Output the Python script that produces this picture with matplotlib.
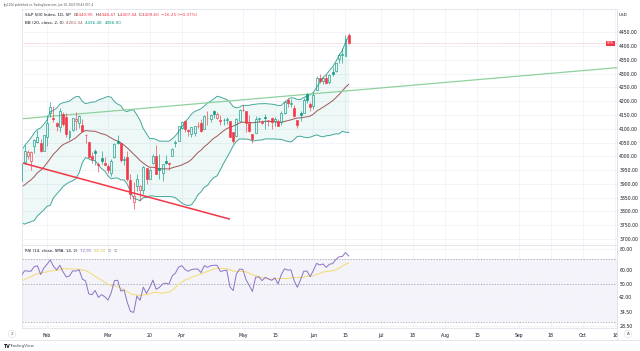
import numpy as np
import pandas as pd
import matplotlib
matplotlib.use("Agg")
import matplotlib.pyplot as plt
from matplotlib.ticker import NullLocator, FixedLocator

plt.rcParams['font.family'] = ['DejaVu Sans']

# ---------------- data ----------------
holidays = ['2022-11-24', '2022-12-26', '2023-01-02', '2023-01-16', '2023-02-20',
            '2023-04-07', '2023-05-29', '2023-06-19', '2023-07-04', '2023-09-04']

# closes before the first visible bar (Nov 1 2022 .. Jan 19 2023), used for BB / RSI warm-up
warmup_close = [3856.10, 3759.69, 3719.89, 3770.55, 3806.80, 3828.11, 3748.57, 3956.37, 3992.93, 3957.25,
                3991.73, 3958.79, 3946.56, 3965.34, 3949.94, 4003.58, 4027.26, 4026.12, 3963.94, 3957.63, 4080.11,
                4076.57, 4071.70, 3998.84, 3941.26, 3933.92, 3963.51, 3934.38, 3990.56, 4019.65, 3995.32,
                3895.75, 3852.36, 3817.66, 3821.62, 3878.44, 3822.39, 3844.82, 3829.25, 3783.22, 3849.28, 3839.50,
                3824.14, 3852.97, 3808.10, 3895.08, 3892.09, 3919.25, 3969.61, 3983.17, 3999.09, 3990.97,
                3928.86, 3898.85]

first_bar = '2023-01-20'
last_bar = '2023-06-16'

open_ = [3909.04, 3978.14, 4001.74, 3982.71, 4036.08, 4053.72, 4049.27, 4020.85,
         4070.07, 4158.68, 4136.69, 4119.57, 4105.35, 4153.47, 4144.25, 4068.92, 4096.62, 4126.70,
         4119.50, 4114.75, 4077.39, 4052.35, 4001.83, 4018.60, 3973.24, 3992.36, 3977.19,
         3963.34, 3938.68, 3998.02, 4055.15, 4048.26, 3987.55, 3998.66, 3912.77, 3835.12, 3894.01,
         3876.74, 3878.93, 3958.69, 3917.47, 3975.89, 4002.04, 3959.21, 3939.21, 3982.93, 3974.13,
         3999.53, 4046.74, 4056.18,
         4102.20, 4128.03, 4094.50, 4081.15, 4085.20, 4110.29, 4121.72, 4100.04, 4140.11, 4137.17,
         4164.26, 4139.33, 4130.48, 4132.14, 4132.07, 4126.43, 4087.78, 4075.29, 4129.63,
         4166.79, 4164.10, 4122.25, 4082.61, 4084.73, 4136.98, 4124.25, 4143.74, 4132.24, 4138.54,
         4126.65, 4127.95, 4122.85, 4157.68, 4204.15, 4190.78, 4176.80, 4132.96, 4155.71, 4156.16,
         4226.71, 4190.74,
         4183.03, 4241.01, 4282.99, 4271.61, 4285.47, 4268.69, 4304.88, 4308.32, 4352.61, 4366.29,
         4365.33, 4440.95]
high = [3972.96, 4039.31, 4023.92, 4019.55, 4061.57, 4094.21, 4063.85, 4077.16,
        4148.95, 4195.44, 4182.36, 4124.63, 4176.54, 4160.77, 4156.23, 4094.36, 4138.90, 4159.77,
        4148.11, 4136.54, 4081.51, 4052.35, 4017.37, 4028.30, 3978.25, 4018.05, 3997.50,
        3971.73, 3990.84, 4048.29, 4078.49, 4050.00, 4000.41, 4017.81, 3934.05, 3905.05, 3937.29,
        3894.26, 3964.46, 3958.91, 3956.62, 4009.08, 4039.49, 4007.66, 3972.74, 4003.83, 3979.20,
        4030.59, 4057.85, 4110.75,
        4127.66, 4133.13, 4099.69, 4107.32, 4109.50, 4124.26, 4134.37, 4150.26, 4163.19, 4151.72,
        4169.48, 4162.57, 4148.57, 4138.02, 4142.41, 4126.43, 4089.67, 4138.24, 4170.06,
        4186.92, 4164.10, 4148.30, 4082.61, 4147.02, 4142.30, 4130.35, 4154.28, 4132.80, 4143.74,
        4141.25, 4135.54, 4164.67, 4202.20, 4212.91, 4209.22, 4185.68, 4132.96, 4165.74, 4212.87,
        4231.10, 4195.44,
        4232.43, 4290.67, 4299.28, 4288.33, 4299.19, 4298.01, 4322.62, 4340.13, 4375.37, 4391.82,
        4439.20, 4448.47]
low = [3897.86, 3971.64, 3989.79, 3949.06, 4013.29, 4048.70, 4015.55, 4020.44,
       4037.20, 4141.88, 4123.36, 4093.38, 4088.39, 4111.35, 4069.67, 4060.79, 4092.67, 4095.01,
       4103.98, 4089.49, 4047.95, 3995.19, 3976.90, 3969.19, 3943.08, 3973.55, 3968.98,
       3939.05, 3928.16, 3995.17, 4044.61, 3980.31, 3969.76, 3908.70, 3846.32, 3808.86, 3873.63,
       3838.24, 3864.11, 3901.27, 3916.89, 3971.19, 3936.17, 3919.05, 3909.16, 3970.49, 3951.53,
       3999.53, 4032.10, 4056.18,
       4098.79, 4086.87, 4072.56, 4069.84, 4072.55, 4102.61, 4086.94, 4099.40, 4113.20, 4123.18,
       4140.36, 4134.49, 4114.57, 4113.86, 4117.77, 4071.38, 4049.35, 4075.29, 4127.18,
       4164.12, 4089.72, 4088.86, 4048.28, 4084.73, 4123.81, 4116.65, 4098.92, 4109.29, 4099.12,
       4110.27, 4109.86, 4113.62, 4153.50, 4180.20, 4179.68, 4142.54, 4103.98, 4129.73, 4156.16,
       4192.18, 4166.15,
       4171.64, 4241.01, 4266.82, 4263.09, 4263.96, 4261.07, 4291.70, 4304.37, 4337.66, 4337.85,
       4362.60, 4407.44]
close = [3972.61, 4019.81, 4016.95, 4016.22, 4060.43, 4070.56, 4017.77, 4076.60,
         4119.21, 4179.76, 4136.48, 4111.08, 4164.00, 4117.86, 4081.50, 4090.46, 4137.29, 4136.13,
         4147.60, 4090.41, 4079.09, 3997.34, 3991.05, 4012.32, 3970.04, 3982.24, 3970.15,
         3951.39, 3981.35, 4045.64, 4048.42, 3986.37, 3992.01, 3918.32, 3861.59, 3855.76, 3919.29,
         3891.93, 3960.28, 3916.64, 3951.57, 4002.87, 3936.97, 3948.72, 3970.99, 3977.53, 3971.27,
         4027.81, 4050.83, 4109.31,
         4124.51, 4100.60, 4090.38, 4105.02, 4109.11, 4108.94, 4091.95, 4146.22, 4137.64, 4151.32,
         4154.87, 4154.52, 4129.79, 4133.52, 4137.04, 4071.63, 4055.99, 4135.35, 4169.48,
         4167.87, 4119.58, 4090.75, 4061.22, 4136.25, 4138.12, 4119.17, 4137.64, 4130.62, 4124.08,
         4136.28, 4109.90, 4158.77, 4198.05, 4191.98, 4192.63, 4145.58, 4115.24, 4151.28, 4205.45,
         4205.52, 4179.83,
         4221.02, 4282.37, 4273.79, 4283.85, 4267.52, 4293.93, 4298.86, 4338.93, 4369.01, 4372.59,
         4425.84, 4409.59]

tick_dates = ['2023-02-01', '2023-03-01', '2023-03-20', '2023-04-03', '2023-05-01', '2023-05-15',
              '2023-06-01', '2023-06-15', '2023-07-03', '2023-07-18', '2023-08-01', '2023-08-15',
              '2023-09-01', '2023-09-18', '2023-10-02', '2023-10-16']
tick_labels = ['Feb', 'Mar', '20', 'Apr', 'May', '15', 'Jun', '15', 'Jul', '18', 'Aug', '15',
               'Sep', '18', 'Oct', '16']

price_ticks = [3700, 3750, 3800, 3850, 3900, 3950, 4000, 4050, 4100, 4150, 4200, 4250,
               4300, 4350, 4400, 4450]
rsi_ticks = [80, 60, 50, 42, 34.5, 28.5]

green_line = [('2023-01-20', 4136.0), ('2023-10-16', 4321.0)]
red_line = [('2023-01-20', 3977.0), ('2023-04-25', 3772.0)]

# ---------------- helpers ----------------
cal = pd.bdate_range('2022-11-01', '2023-10-31', freq='C', holidays=holidays)
pos = {d.strftime('%Y-%m-%d'): i for i, d in enumerate(cal)}
warm_idx = np.arange(pos[first_bar] - len(warmup_close), pos[first_bar])
bar_idx = np.arange(pos[first_bar], pos[last_bar] + 1)
assert len(bar_idx) == len(close)

all_close = pd.Series(warmup_close + close, index=np.concatenate([warm_idx, bar_idx]))

# Bollinger bands (20, 2)
basis = all_close.rolling(20).mean()
sd = all_close.rolling(20).std(ddof=0)
upper = basis + 2 * sd
lower = basis - 2 * sd

# RSI 14 (Wilder), SMA 14
def rma(vals, n):
    out = np.full(len(vals), np.nan)
    for i in range(len(vals)):
        if i == n:
            out[i] = np.mean(vals[1:n + 1])
        elif i > n:
            out[i] = (out[i - 1] * (n - 1) + vals[i]) / n
    return out

d = all_close.diff().fillna(0).values
gain = np.where(d > 0, d, 0.0)
loss = np.where(d < 0, -d, 0.0)
ag = rma(gain, 14)
al = rma(loss, 14)
rsi = pd.Series(100 - 100 / (1 + ag / al), index=all_close.index)
rsi_sma = rsi.rolling(14).mean()

# ---------------- figure ----------------
W, H = 640, 351
fig = plt.figure(figsize=(W / 100, H / 100), dpi=100)
fig.patch.set_facecolor('white')

def fx(px):
    return px / W

def fy(py):
    return 1 - py / H

L_px, R_px = 22, 617
ax = fig.add_axes([fx(L_px), fy(245), (R_px - L_px) / W, (245 - 9) / H])
axr = fig.add_axes([fx(L_px), fy(328), (R_px - L_px) / W, (328 - 245) / H])

feb1 = pos['2023-02-01']
xlim = (feb1 - 7.8, feb1 + 177.6)
grid_c = '#f0f3fa'
border_c = '#e0e3eb'

xt = [pos[t] for t in tick_dates]
for a in (ax, axr):
    a.set_xlim(*xlim)
    a.set_facecolor('white')
    for s in a.spines.values():
        s.set_color(border_c)
        s.set_linewidth(0.6)
    a.set_xticks(xt)
    a.tick_params(axis='both', length=0, labelsize=3.3, colors='#131722')
    a.grid(True, color=grid_c, linewidth=0.6)
    a.set_axisbelow(True)
    a.yaxis.tick_right()

ax.set_xticklabels([])
axr.set_xticklabels(tick_labels)
axr.tick_params(axis='x', pad=3.3)

# main pane
ax.set_ylim(3678.2, 4534.5)
ax.set_yticks(price_ticks)
ax.set_yticklabels(['%.2f' % v for v in price_ticks])
ax.tick_params(axis='y', pad=1.6)

# BB
vis = basis.index >= pos[first_bar] - 1
bx = basis.index[vis]
ax.fill_between(bx, upper[vis], lower[vis], color='#26a69a', alpha=0.08, linewidth=0, zorder=1)
ax.plot(bx, upper[vis], color='#45a89b', lw=0.7, zorder=2)
ax.plot(bx, lower[vis], color='#45a89b', lw=0.7, zorder=2)
ax.plot(bx, basis[vis], color='#a0575a', lw=0.7, zorder=2)

# candles (hollow style)
up_c, dn_c = '#089981', '#f23645'
prev = [warmup_close[-1]] + close[:-1]
bw = 0.62
for x, o, h, l, c, p in zip(bar_idx, open_, high, low, close, prev):
    col = up_c if c >= p else dn_c
    top, bot = max(o, c), min(o, c)
    filled = c < o
    ax.vlines(x, top, h, color=col, lw=0.45, zorder=3)
    ax.vlines(x, l, bot, color=col, lw=0.45, zorder=3)
    ax.bar(x, max(top - bot, 0.8), bottom=bot, width=bw,
           facecolor=col if filled else 'none', edgecolor=col, linewidth=0.45, zorder=4)

# trend lines
(g1d, g1p), (g2d, g2p) = green_line
ax.axline((pos[g1d], g1p), (pos[g2d], g2p), color='#8fd19e', lw=0.9, zorder=2)
(r1d, r1p), (r2d, r2p) = red_line
ax.plot([pos[r1d], pos[r2d]], [r1p, r2p], color='#f23645', lw=1.1, zorder=2, solid_capstyle='butt')

# last price line
ax.axhline(close[-1], color='#f23645', alpha=0.35, lw=0.6, ls=(0, (1, 1)), zorder=2)

# RSI pane
axr.set_yscale('log')
axr.set_ylim(27.7, 84.5)
axr.yaxis.set_major_locator(FixedLocator(rsi_ticks))
axr.yaxis.set_minor_locator(NullLocator())
axr.set_yticklabels(['%.2f' % v for v in rsi_ticks])
axr.tick_params(axis='y', pad=1.6)
axr.axhspan(30, 70, color='#7e57c2', alpha=0.07, lw=0, zorder=0.5)
for lv in (70, 50, 30):
    axr.axhline(lv, color='#9598a1', lw=0.5, ls=(0, (2, 2)), zorder=1)
ri = rsi.index >= pos[first_bar] - 1
axr.plot(rsi.index[ri], rsi_sma[ri], color='#f2dc6b', lw=0.7, zorder=2)
axr.plot(rsi.index[ri], rsi[ri], color='#8c72c4', lw=0.7, zorder=3)

# ---------------- texts ----------------
renderer = fig.canvas.get_renderer()

def chain(x_px, y_px, parts, size):
    x = x_px
    for s, col in parts:
        t = fig.text(fx(x), fy(y_px), s, color=col, fontsize=size, va='center', ha='left')
        x += t.get_window_extent(renderer=renderer).width

dark = '#131722'
red = '#f23645'
teal = '#089981'
fig.text(fx(3), fy(5), 'Jay1104 published on TradingView.com, Jun 18, 2023 09:43 UTC-4',
         fontsize=2.0, color='#50535e', va='center', ha='left')
chain(25, 15.3, [('S&P 500 Index, 1D, SP  ', dark), ('O', dark), ('4440.95  ', red),
                 ('H', dark), ('4448.47  ', red), ('L', dark), ('4407.44  ', red),
                 ('C', dark), ('4409.60  ', red), ('\u221216.25 (\u22120.37%)', red)], 3.0)
chain(25, 22.5, [('BB (20, close, 2, 0)  ', dark), ('4261.34  ', '#a0575a'),
                 ('4436.48  ', teal), ('4086.00', teal)], 3.0)
chain(25, 250.5, [('RSI (14, close, SMA, 14, 2)  ', dark), ('72.91  ', '#7e57c2'),
                  ('66.20  ', '#e0c43a'), ('\u2205  \u2205', '#787b86')], 2.9)

# SPX tag
ax.text(0.995, close[-1], 'SPX', transform=ax.get_yaxis_transform(), ha='right', va='center',
        fontsize=2.6, color='white', zorder=6,
        bbox=dict(boxstyle='square,pad=0.25', fc='#f23645', ec='none'))

fig.text(fx(619), fy(15), 'USD', fontsize=3.0, color=dark, va='center', ha='left')

# bottom row
fig.add_artist(plt.Line2D([fx(0), fx(640)], [fy(340), fy(340)], color=border_c, lw=0.6))
fig.add_artist(plt.Line2D([fx(R_px), fx(R_px)], [fy(9), fy(340)], color=border_c, lw=0.6))
fig.text(fx(12), fy(334), '2', fontsize=3.0, color='#50535e', ha='center', va='center',
         bbox=dict(boxstyle='circle,pad=0.4', fc='white', ec=border_c, lw=0.5))
fig.text(fx(628), fy(334), 'A', fontsize=3.0, color='#50535e', ha='center', va='center',
         bbox=dict(boxstyle='circle,pad=0.4', fc='white', ec=border_c, lw=0.5))
fig.text(fx(3), fy(346), 'TV', fontsize=3.4, color=dark, fontweight='bold', va='center', ha='left')
fig.text(fx(9), fy(346), 'TradingView', fontsize=3.0, color='#50535e', va='center', ha='left')

fig.savefig('out.png', dpi=100, facecolor='white')
